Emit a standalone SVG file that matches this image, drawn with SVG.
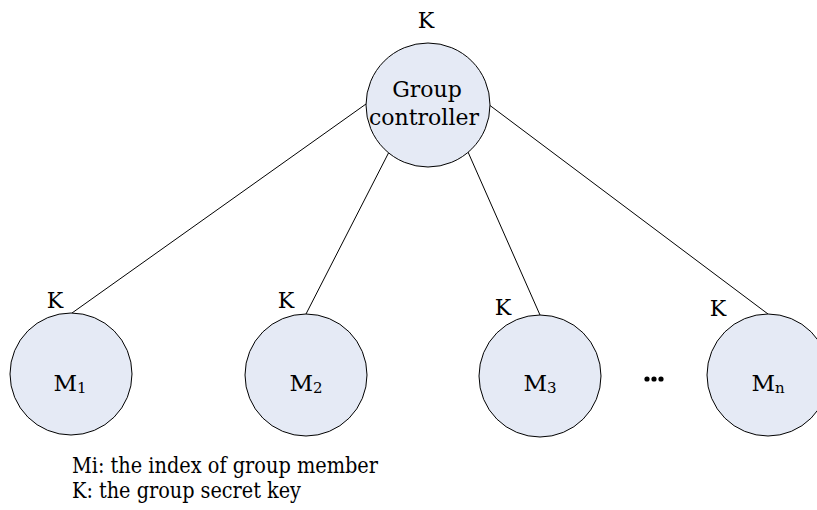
<svg xmlns="http://www.w3.org/2000/svg" width="817" height="510" viewBox="0 0 817 510">
  <style>
    .node { fill: #e5eaf5; stroke: #000; stroke-width: 1; }
    .edge { stroke: #000; stroke-width: 1; fill: none; }
    text { font-family: "DejaVu Serif", "Liberation Serif", serif; fill: #000; }
    .lbl { font-size: 22px; text-anchor: middle; }
    .mem { font-size: 23px; text-anchor: middle; }
    .sub { font-size: 15px; }
    .key { font-size: 22px; text-anchor: middle; }
    .legend { font-size: 22px; }
  </style>
  <rect width="817" height="510" fill="#fff"/>

  <!-- connectors from the controller to each member -->
  <g id="connectors">
    <line class="edge" x1="366" y1="104" x2="72" y2="313"/>
    <line class="edge" x1="389" y1="152" x2="306" y2="314"/>
    <line class="edge" x1="468" y1="152" x2="540" y2="315"/>
    <line class="edge" x1="488" y1="104" x2="768" y2="314"/>
  </g>

  <g id="controller">
    <circle class="node" cx="428" cy="105" r="62"/>
    <text class="lbl" x="427" y="97">Group</text>
    <text class="lbl" x="424" y="125" textLength="110" lengthAdjust="spacingAndGlyphs">controller</text>
    <text class="key" x="426" y="28">K</text>
  </g>

  <g id="m1">
    <circle class="node" cx="71" cy="374" r="61"/>
    <text class="mem" x="70" y="391">M<tspan class="sub" dy="2">1</tspan></text>
    <text class="key" x="55" y="308">K</text>
  </g>

  <g id="m2">
    <circle class="node" cx="306" cy="375" r="61"/>
    <text class="mem" x="306" y="391">M<tspan class="sub" dy="2">2</tspan></text>
    <text class="key" x="286" y="308">K</text>
  </g>

  <g id="m3">
    <circle class="node" cx="540" cy="376" r="61"/>
    <text class="mem" x="540" y="391">M<tspan class="sub" dy="2">3</tspan></text>
    <text class="key" x="503" y="315">K</text>
  </g>

  <g id="ellipsis">
    <circle cx="647" cy="379" r="2.6" fill="#000"/>
    <circle cx="654" cy="379" r="2.6" fill="#000"/>
    <circle cx="661" cy="379" r="2.6" fill="#000"/>
  </g>

  <g id="mn">
    <circle class="node" cx="768" cy="375" r="61"/>
    <text class="mem" x="768" y="391">M<tspan class="sub" dy="2">n</tspan></text>
    <text class="key" x="718" y="316">K</text>
  </g>

  <g id="legend">
    <text class="legend" x="72" y="473" textLength="306" lengthAdjust="spacingAndGlyphs">Mi: the index of group member</text>
    <text class="legend" x="72" y="498" textLength="229" lengthAdjust="spacingAndGlyphs">K: the group secret key</text>
  </g>
</svg>
